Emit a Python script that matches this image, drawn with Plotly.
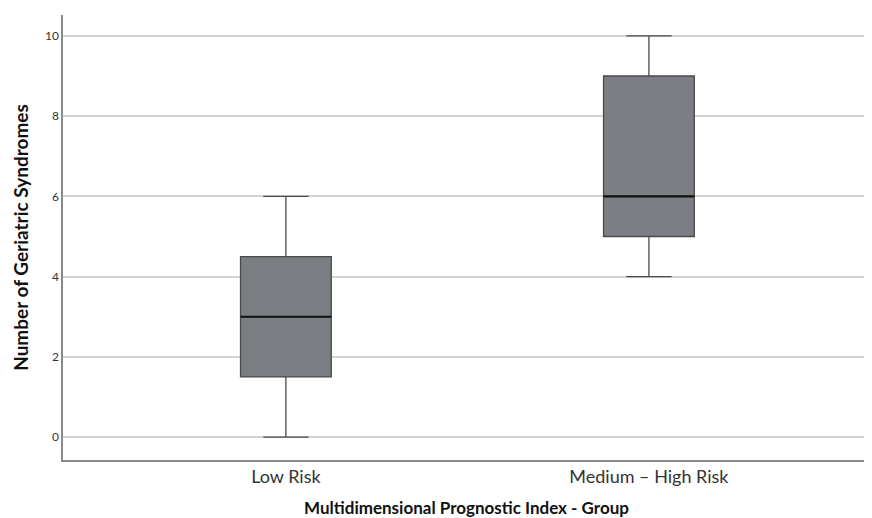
import plotly.graph_objects as go

groups = ["Low Risk", "Medium \u2013 High Risk"]
positions = [0, 1]
mins = [0, 4]
q1s = [1.5, 5]
medians = [3, 6]
q3s = [4.5, 9]
maxs = [6, 10]
y_ticks = [0, 2, 4, 6, 8, 10]

BOX_W = 0.25
FONT = "Lato"

fig = go.Figure()
for i, g in enumerate(groups):
    fig.add_trace(go.Box(
        x=[positions[i]], q1=[q1s[i]], median=[medians[i]], q3=[q3s[i]],
        lowerfence=[mins[i]], upperfence=[maxs[i]],
        width=BOX_W, whiskerwidth=0.5,
        fillcolor="#7b7e83", line=dict(color="#4a4a4a", width=1.3),
        name=g, showlegend=False, hoverinfo="skip",
    ))
    fig.add_trace(go.Scatter(
        x=[positions[i] - BOX_W / 2, positions[i] + BOX_W / 2],
        y=[medians[i], medians[i]],
        mode="lines", line=dict(color="#111111", width=2.2),
        showlegend=False, hoverinfo="skip",
    ))

# page has an 8px body margin; size the figure to fit the 872x518 window
fig.update_layout(
    width=864, height=510,
    margin=dict(l=55, r=2, t=7, b=58),
    plot_bgcolor="white", paper_bgcolor="white",
    font=dict(family=FONT, color="#222222"),
)
fig.update_xaxes(
    range=[-0.614, 1.609], tickvals=positions, ticktext=groups,
    showgrid=False, zeroline=False, showline=True, linecolor="#8a8a8a", linewidth=1.5,
    tickfont=dict(size=18, color="#333333", family=FONT), ticks="",
    title=dict(text="<b>Multidimensional Prognostic Index - Group</b>",
               font=dict(size=17, color="#111111", family=FONT), standoff=16),
)
fig.update_yaxes(
    range=[-0.57, 10.52], tickvals=y_ticks,
    showgrid=True, gridcolor="#d3d3d3", gridwidth=1.5, zeroline=False,
    showline=True, linecolor="#8a8a8a", linewidth=1.5, ticks="",
    tickfont=dict(size=12, color="#333333", family=FONT),
    title=dict(text="<b>Number of Geriatric Syndromes</b>",
               font=dict(size=19, color="#111111", family=FONT), standoff=11),
)

fig.write_html("out.html")
